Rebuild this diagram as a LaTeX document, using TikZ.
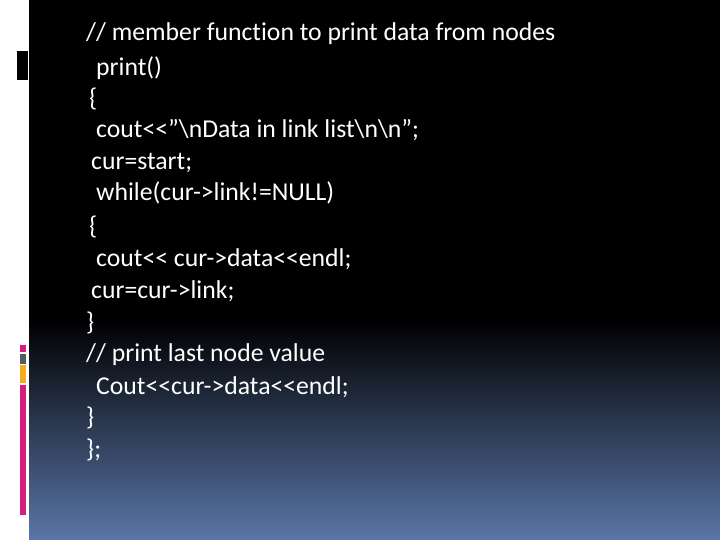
\documentclass[tikz,border=0pt]{standalone}
\usepackage{fontspec}
\setmainfont[Ligatures={NoCommon}]{Carlito}
\definecolor{bgblue}{HTML}{5A76A8}
\definecolor{mag}{HTML}{D61E7E}
\definecolor{gry}{HTML}{555A60}
\definecolor{yel}{HTML}{F2AE1C}
\tikzset{code/.style={anchor=base west,text=white,inner sep=0pt,font=\fontsize{25.7}{30}\selectfont}}
\begin{document}
\begin{tikzpicture}[x=1pt,y=-1pt]
\useasboundingbox (0,0) rectangle (720,540);
\fill[white] (0,0) rectangle (29,540);
\fill[black] (29,0) rectangle (720,320);
\shade[top color=black,bottom color=bgblue] (29,319.5) rectangle (720,540);
\fill[black] (17,51) rectangle (28,80);
\fill[mag] (20,345) rectangle (26,352);
\fill[gry] (20,354) rectangle (26,364);
\fill[yel] (20,365) rectangle (26,383);
\fill[mag] (20,385) rectangle (26,515);
\node[code] (l1) at (86,41) {// member function to print data from nodes};
\node[code] (l2) at (96,76) {print()};
\node[code] (l3) at (89,107) {\{};
\node[code] (l4) at (96,138) {cout<{}<”\textbackslash nData in link list\textbackslash n\textbackslash n”;};
\node[code] (l5) at (91,170) {cur=start;};
\node[code] (l6) at (96,201) {while(cur->link!=NULL)};
\node[code] (l7) at (89,234) {\{};
\node[code] (l8) at (96,266) {cout<{}< cur->data<{}<endl;};
\node[code] (l9) at (91,298) {cur=cur->link;};
\node[code] (l10) at (86,330) {\}};
\node[code] (l11) at (86,361) {// print last node value};
\node[code] (l12) at (96,394) {Cout<{}<cur->data<{}<endl;};
\node[code] (l13) at (86,425) {\}};
\node[code] (l14) at (86,457) {\};};
\end{tikzpicture}
\end{document}
